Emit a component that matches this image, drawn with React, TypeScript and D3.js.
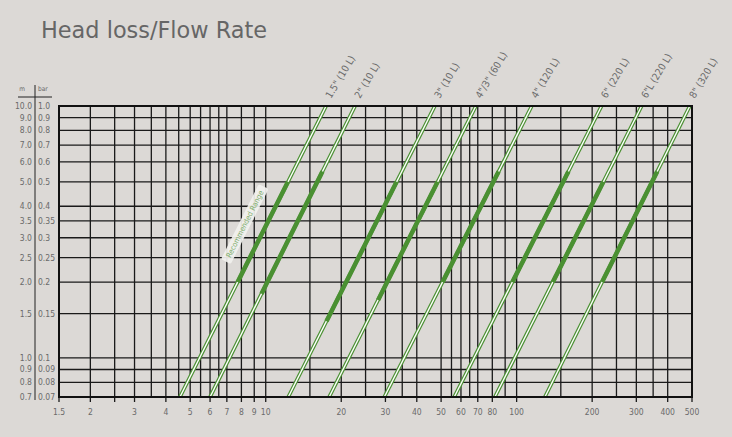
import { useMemo } from 'react';
import * as d3 from 'd3';

// Pipe series: flow rate (m3/h) where each line meets 0.07 bar and 1.0 bar
const pipeLabels = ['1.5" (10 L)', '2" (10 L)', '3" (10 L)', '4"/3" (60 L)', '4" (120 L)', '6" (220 L)', '6"L (220 L)', '8" (320 L)'];
const flowAtMinLoss = [4.55, 6.0, 12.3, 17.9, 29.7, 56.4, 81.9, 129.6];
const flowAtMaxLoss = [17.4, 22.7, 47.2, 68.8, 114.9, 218, 315, 490];
// Recommended range (bar) drawn as the thick part of each line
const rangeLow = [0.2, 0.18, 0.14, 0.17, 0.2, 0.2, 0.2, 0.2];
const rangeHigh = [0.5, 0.55, 0.5, 0.5, 0.55, 0.55, 0.5, 0.55];

// Axes
const lossGrid = [1.0, 0.9, 0.8, 0.7, 0.6, 0.5, 0.4, 0.35, 0.3, 0.25, 0.2, 0.15, 0.1, 0.09, 0.08, 0.07];
const meterLabels = ['10.0', '9.0', '8.0', '7.0', '6.0', '5.0', '4.0', '3.5', '3.0', '2.5', '2.0', '1.5', '1.0', '0.9', '0.8', '0.7'];
const barLabels = ['1.0', '0.9', '0.8', '0.7', '0.6', '0.5', '0.4', '0.35', '0.3', '0.25', '0.2', '0.15', '0.1', '0.09', '0.08', '0.07'];
const flowGrid = [1.5, 2, 2.5, 3, 3.5, 4, 4.5, 5, 5.5, 6, 6.5, 7, 8, 9, 10, 15, 20, 25, 30, 35, 40, 50, 55, 60, 65, 70, 80, 90, 100, 150, 200, 250, 300, 350, 400, 500];
const flowTicks = [1.5, 2, 2.5, 3, 4, 5, 6, 7, 8, 9, 10, 20, 30, 40, 50, 60, 70, 80, 100, 200, 300, 400, 500];
const flowLabels = [1.5, 2, 3, 4, 5, 6, 7, 8, 9, 10, 20, 30, 40, 50, 60, 70, 80, 100, 200, 300, 400, 500];

const W = 732;
const H = 437;
const GREEN = '#4a9032';
const TEXT = '#6a6a6a';
const FONT = 'DejaVu Sans Condensed';

export default function App() {
  const x = useMemo(() => d3.scaleLog().domain([1.5, 500]).range([59, 692]), []);
  const y = useMemo(() => d3.scaleLog().domain([0.07, 1.0]).range([397, 106]), []);

  // flow on a pipe line for a given head loss (straight line in log-log space)
  const flowAt = (i: number, h: number) => {
    const t = (Math.log(h) - Math.log(0.07)) / (Math.log(1.0) - Math.log(0.07));
    return Math.exp(Math.log(flowAtMinLoss[i]) + t * (Math.log(flowAtMaxLoss[i]) - Math.log(flowAtMinLoss[i])));
  };

  const angle = useMemo(() => {
    const dx = x(flowAtMaxLoss[0]) - x(flowAtMinLoss[0]);
    const dy = y(1.0) - y(0.07);
    return (Math.atan2(dy, dx) * 180) / Math.PI;
  }, [x, y]);

  const [x0, x1] = x.range();
  const [yb, yt] = y.range();

  // Recommended range tag placed beside the first pipe line
  const tagH = 0.34;
  const tagX = x(flowAt(0, tagH)) - 22;
  const tagY = y(tagH);

  return (
    <div style={{ position: 'absolute', left: 0, top: 0 }}>
      <svg width={W} height={H} style={{ display: 'block', background: '#dcd9d6' }}>
        <text x={41} y={38} fontFamily="DejaVu Sans" fontSize={22.4} fill="#666">
          Head loss/Flow Rate
        </text>

        {/* left unit header */}
        <text x={22} y={91} fontFamily={FONT} fontSize={6.5} fill={TEXT} textAnchor="middle">m</text>
        <text x={38} y={91} fontFamily={FONT} fontSize={6.5} fill={TEXT}>bar</text>
        <line x1={18} x2={52} y1={97} y2={97} stroke="#222" strokeWidth={1} />
        <line x1={35} x2={35} y1={85} y2={400} stroke="#222" strokeWidth={1} />

        {/* horizontal grid */}
        {lossGrid.map((v, i) => (
          <g key={'h' + i}>
            <line x1={x0} x2={x1} y1={y(v)} y2={y(v)} stroke="#1a1a1a" strokeWidth={1.3} />
            <text x={32} y={y(v)} dy="0.35em" textAnchor="end" fontFamily={FONT} fontSize={8.5} fill={TEXT}>
              {meterLabels[i]}
            </text>
            <text x={38} y={y(v)} dy="0.35em" fontFamily={FONT} fontSize={8.5} fill={TEXT}>
              {barLabels[i]}
            </text>
          </g>
        ))}

        {/* vertical grid */}
        {flowGrid.map((v, i) => (
          <line key={'v' + i} x1={x(v)} x2={x(v)} y1={yt} y2={yb} stroke="#1a1a1a" strokeWidth={1.3} />
        ))}
        {flowTicks.map((v, i) => (
          <line key={'t' + i} x1={x(v)} x2={x(v)} y1={yb} y2={yb + 5} stroke="#1a1a1a" strokeWidth={1.3} />
        ))}
        {flowLabels.map((v, i) => (
          <text key={'l' + i} x={x(v)} y={415} textAnchor="middle" fontFamily={FONT} fontSize={8.5} fill={TEXT}>
            {String(v)}
          </text>
        ))}

        {/* pipe lines */}
        {pipeLabels.map((label, i) => {
          const ax = x(flowAtMinLoss[i]);
          const bx = x(flowAtMaxLoss[i]);
          const lx = x(flowAt(i, rangeLow[i]));
          const hx = x(flowAt(i, rangeHigh[i]));
          return (
            <g key={'p' + i}>
              <line x1={ax} y1={yb} x2={bx} y2={yt} stroke={GREEN} strokeWidth={3.8} />
              <line x1={ax} y1={yb} x2={bx} y2={yt} stroke="#ffffff" strokeWidth={1.4} />
              <line x1={lx} y1={y(rangeLow[i])} x2={hx} y2={y(rangeHigh[i])} stroke={GREEN} strokeWidth={4.5} />
              <text
                transform={`translate(${bx + 5},${yt - 7}) rotate(-59)`}
                fontFamily={FONT}
                fontSize={10}
                fill={TEXT}
              >
                {label}
              </text>
            </g>
          );
        })}

        {/* border */}
        <rect x={x0} y={yt} width={x1 - x0} height={yb - yt} fill="none" stroke="#111" strokeWidth={2} />

        {/* recommended range tag */}
        <g transform={`translate(${tagX},${tagY}) rotate(${angle})`}>
          <rect x={-42} y={-5.5} width={84} height={11} rx={2} fill="#f1f1ee" opacity={0.92} />
          <text x={0} y={0} dy="0.35em" textAnchor="middle" fontFamily={FONT} fontSize={7.5} fill="#7fae6c">
            Recommended Range
          </text>
        </g>
      </svg>
    </div>
  );
}
